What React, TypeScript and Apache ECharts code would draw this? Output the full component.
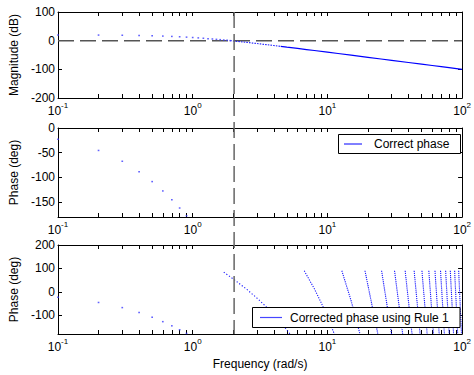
import React, { useEffect, useRef } from "react";
import * as echarts from "echarts";

// ---- tick labels ----
const decadeLabels = [0.1, 1, 10, 100];
const magTicks = [-200, -100, 0, 100];
const phaseTicks = [-150, -100, -50, 0];
const wrapTicks = [-100, 0, 100, 200];
const markerFreq = 2.03; // vertical dashed line (crossover)

// ---- magnitude (dB) ----
const magDotFreq = [0.1, 0.2, 0.3, 0.4, 0.5, 0.6, 0.7, 0.8, 0.9, 1.0, 1.1, 1.2, 1.3, 1.4, 1.5, 1.6, 1.7, 1.8, 1.9];
const magDotDb = [19.9, 19.5, 18.9, 18.1, 17.1, 16.0, 14.8, 13.6, 12.3, 11.0, 9.7, 8.4, 7.1, 5.9, 4.6, 3.5, 2.3, 1.2, 0.1];
const magDottedFreq = [1.9, 2, 2.5, 3, 3.5, 4, 4.5];
const magDottedDb = [0.1, -1.0, -5.8, -10.0, -13.7, -16.9, -19.8];
const magSolidFreq = [4.5, 5, 6, 7, 8, 10, 12, 15, 20, 25, 30, 40, 50, 60, 70, 80, 100];
const magSolidDb = [-19.8, -22.5, -27.1, -31.0, -34.4, -40.1, -44.8, -50.6, -58.1, -63.9, -68.6, -76.1, -81.9, -86.7, -90.7, -94.2, -100.0];
const zeroDbLine = [0];

// ---- phase (deg), low frequency samples ----
const phaseDotFreq = [0.1, 0.2, 0.3, 0.4, 0.5, 0.6, 0.7, 0.8, 0.9];
const phaseDotDeg = [-22.9, -45.4, -67.3, -88.3, -108.4, -127.3, -145.1, -161.8, -177.5];

// ---- wrapped phase segments (Rule 1) ----
const seg1Freq = [1.7, 2, 2.5, 3, 3.5, 4, 4.5, 5, 5.27];
const seg1Deg = [84.0, 55.1, 12.2, -26.6, -62.7, -97.1, -130.2, -162.6, -180];
const seg2Freq = [6.73, 8, 9, 10, 11.26];
const seg2Deg = [90, 13.0, -46.6, -105.8, -180];
const seg3Freq = [12.8, 15, 17.45];
const seg3Deg = [90, -38.0, -180];
const segStartFreq = [19.01, 25.25, 31.51, 37.78, 44.05, 50.33, 56.6, 62.88, 69.16, 75.44, 81.72, 88.0, 94.28];
const segEndFreq = [23.69, 29.95, 36.21, 42.48, 48.76, 55.03, 61.31, 67.59, 73.87, 80.15, 86.43, 92.71, 98.99];
const segTopDeg = 90;
const segBottomDeg = -180;

const FONT = "'Liberation Sans', Arial, Helvetica, sans-serif";
const BLUE = "#0000ff";

const xTickVals: number[] = [];
[0.1, 1, 10].forEach((d) => {
  for (let k = 1; k <= 9; k++) xTickVals.push(+(d * k).toPrecision(3));
});
xTickVals.push(100);

const grids = [
  { left: 58, top: 12, width: 408, height: 86 },
  { left: 58, top: 128, width: 408, height: 89 },
  { left: 58, top: 245, width: 408, height: 89 },
];

function xAxisFor(gridIndex: number, position: "bottom" | "top", name?: string) {
  const labels = position === "bottom";
  return {
    type: "log",
    logBase: 10,
    min: 0.1,
    max: 100,
    gridIndex,
    position,
    name: name || "",
    nameLocation: "middle",
    nameGap: 24,
    nameTextStyle: { fontFamily: FONT, fontSize: 12, color: "#000" },
    axisLine: { show: true, onZero: false, lineStyle: { color: "#000", width: 1 } },
    axisTick: { show: true, inside: true, length: 4, customValues: xTickVals, lineStyle: { color: "#000" } },
    minorTick: { show: false },
    splitLine: { show: false },
    axisLabel: labels
      ? {
          show: true,
          customValues: decadeLabels,
          margin: 3,
          showMinLabel: true,
          showMaxLabel: true,
          formatter: (v: number) => `{b|10}{s|${Math.round(Math.log10(v))}}`,
          rich: {
            b: { fontFamily: FONT, fontSize: 12, color: "#000", lineHeight: 16, verticalAlign: "bottom" },
            s: { fontFamily: FONT, fontSize: 8, color: "#000", lineHeight: 16, verticalAlign: "top" },
          },
        }
      : { show: false },
  };
}

function yAxisFor(gridIndex: number, position: "left" | "right", min: number, max: number, ticks: number[], name?: string) {
  const labels = position === "left";
  return {
    type: "value",
    gridIndex,
    position,
    min,
    max,
    name: name || "",
    nameLocation: "middle",
    nameGap: 35,
    nameTextStyle: { fontFamily: FONT, fontSize: 12, color: "#000" },
    axisLine: { show: true, onZero: false, lineStyle: { color: "#000", width: 1 } },
    axisTick: { show: true, inside: true, length: 4, customValues: ticks, lineStyle: { color: "#000" } },
    splitLine: { show: false },
    axisLabel: labels
      ? { show: true, customValues: ticks, margin: 3, fontFamily: FONT, fontSize: 12, color: "#000" }
      : { show: false },
  };
}

const zip = (a: number[], b: number[]) => a.map((v, i) => [v, b[i]]);

export default function App() {
  const ref = useRef<HTMLDivElement>(null);
  useEffect(() => {
    if (!ref.current) return;
    const chart = echarts.init(ref.current, null, { renderer: "svg" });

    const dotted = (data: number[][], xi: number, yi: number, dash: number[], color = "#1a1aff") => ({
      type: "line",
      xAxisIndex: xi,
      yAxisIndex: yi,
      data,
      showSymbol: false,
      symbol: "none",
      silent: true,
      lineStyle: { color, width: 1.1, type: dash },
      z: 3,
    });

    const dots = (data: number[][], xi: number, yi: number) => ({
      type: "scatter",
      xAxisIndex: xi,
      yAxisIndex: yi,
      data,
      symbol: "rect",
      symbolSize: [1.7, 1.5],
      itemStyle: { color: "#3a3aff" },
      silent: true,
      clip: false,
      z: 3,
    });

    const series: any[] = [
      // magnitude
      dots(zip(magDotFreq, magDotDb), 0, 0),
      dotted(zip(magDottedFreq, magDottedDb), 0, 0, [1.5, 1.2]),
      {
        type: "line",
        xAxisIndex: 0,
        yAxisIndex: 0,
        data: zip(magSolidFreq, magSolidDb),
        symbol: "none",
        silent: true,
        lineStyle: { color: BLUE, width: 1.2 },
        z: 3,
      },
      {
        type: "line",
        xAxisIndex: 0,
        yAxisIndex: 0,
        data: [
          [0.1, zeroDbLine[0]],
          [100, zeroDbLine[0]],
        ],
        symbol: "none",
        silent: true,
        lineStyle: { color: "#555555", width: 1.5, type: [16, 6] },
        z: 2,
      },
      // correct phase
      dots(zip(phaseDotFreq, phaseDotDeg), 2, 2),
      // wrapped phase
      dots(zip(phaseDotFreq, phaseDotDeg), 4, 4),
      dotted(zip(seg1Freq, seg1Deg), 4, 4, [1.2, 2.0]),
      dotted(zip(seg2Freq, seg2Deg), 4, 4, [1.2, 1.3]),
      dotted(zip(seg3Freq, seg3Deg), 4, 4, [1.2, 1.0]),
      ...segStartFreq.map((f, i) =>
        dotted(
          [
            [f, segTopDeg],
            [segEndFreq[i], segBottomDeg],
          ],
          4,
          4,
          [1.2, 0.9]
        )
      ),
    ];

    chart.setOption({
      animation: false,
      backgroundColor: "#fff",
      grid: grids,
      xAxis: [
        xAxisFor(0, "bottom"),
        xAxisFor(0, "top"),
        xAxisFor(1, "bottom"),
        xAxisFor(1, "top"),
        xAxisFor(2, "bottom", "Frequency (rad/s)"),
        xAxisFor(2, "top"),
      ],
      yAxis: [
        yAxisFor(0, "left", -200, 100, magTicks, "Magnitude (dB)"),
        yAxisFor(0, "right", -200, 100, magTicks),
        yAxisFor(1, "left", -180, 0, phaseTicks, "Phase (deg)"),
        yAxisFor(1, "right", -180, 0, phaseTicks),
        yAxisFor(2, "left", -180, 200, wrapTicks, "Phase (deg)"),
        yAxisFor(2, "right", -180, 200, wrapTicks),
      ],
      series,
    });

    const vx = chart.convertToPixel({ xAxisIndex: 0 }, markerFreq) as unknown as number;
    const topY = grids[0].top;
    const botY = grids[2].top + grids[2].height;

    chart.setOption({
      graphic: [
        {
          type: "line",
          id: "vline",
          z: 50,
          silent: true,
          shape: { x1: vx, y1: topY, x2: vx, y2: botY },
          style: { stroke: "#666666", lineWidth: 1.5, lineDash: [16, 6] },
        },
        {
          type: "group",
          id: "leg1",
          z: 100,
          children: [
            { type: "rect", z: 100, shape: { x: 338.5, y: 134.5, width: 122, height: 19 }, style: { fill: "#fff", stroke: "#000", lineWidth: 1 } },
            { type: "line", z: 101, shape: { x1: 344, y1: 144, x2: 362, y2: 144 }, style: { stroke: BLUE, lineWidth: 1 } },
            { type: "text", z: 101, x: 374, y: 144, style: { text: "Correct phase", fontFamily: FONT, fontSize: 12, fill: "#000", verticalAlign: "middle" } },
          ],
        },
        {
          type: "group",
          id: "leg2",
          z: 100,
          children: [
            { type: "rect", z: 100, shape: { x: 252.5, y: 307.5, width: 207.5, height: 20 }, style: { fill: "#fff", stroke: "#000", lineWidth: 1 } },
            { type: "line", z: 101, shape: { x1: 260, y1: 317.5, x2: 282, y2: 317.5 }, style: { stroke: "#4646ff", lineWidth: 1.2 } },
            { type: "text", z: 101, x: 290, y: 317.5, style: { text: "Corrected phase using Rule 1", fontFamily: FONT, fontSize: 12, fill: "#000", verticalAlign: "middle" } },
          ],
        },
      ],
    });

    return () => chart.dispose();
  }, []);

  return (
    <div
      ref={ref}
      style={{ position: "fixed", left: 0, top: 0, width: 474, height: 375, background: "#fff" }}
    />
  );
}
